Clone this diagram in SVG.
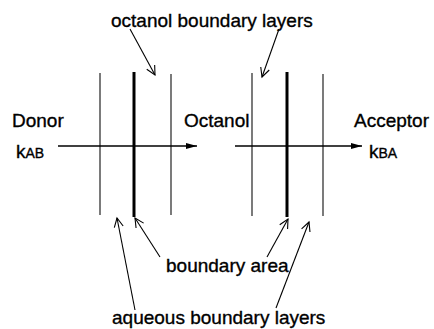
<svg xmlns="http://www.w3.org/2000/svg" width="434" height="329" viewBox="0 0 434 329">
<style>
text{font-family:"Liberation Sans",Arial,sans-serif;font-size:19px;fill:#000;stroke:#000;stroke-width:0.35}
.sub{font-size:14px}
.thin{stroke:#222;stroke-width:1.2;fill:none}
.thick{stroke:#000;stroke-width:3;fill:none}
.flow{stroke:#000;stroke-width:1.5;fill:none;marker-end:url(#fill)}
.ptr{stroke:#000;stroke-width:1.1;fill:none;marker-end:url(#open)}
</style>
<defs>
<marker id="fill" markerWidth="12" markerHeight="8" refX="11" refY="4" orient="auto" markerUnits="userSpaceOnUse">
<path d="M0,1 L11,4 L0,7 Z" fill="#000"/>
</marker>
<marker id="open" markerWidth="12" markerHeight="12" refX="10" refY="6" orient="auto" markerUnits="userSpaceOnUse">
<path d="M1,1.5 L10,6 L1,10.5" fill="none" stroke="#000" stroke-width="1.1"/>
</marker>
</defs>
<rect width="434" height="329" fill="#fff"/>
<g id="membrane-left">
<line class="thin" x1="100" y1="73" x2="100" y2="215"/>
<line class="thick" x1="134" y1="72" x2="134" y2="217"/>
<line class="thin" x1="171" y1="74" x2="171" y2="215"/>
</g>
<g id="membrane-right">
<line class="thin" x1="252" y1="73" x2="252" y2="216"/>
<line class="thick" x1="287" y1="72" x2="287" y2="217"/>
<line class="thin" x1="323" y1="74" x2="323" y2="216"/>
</g>
<g id="label-octanol-boundary"><text x="111" y="27">octanol boundary layers</text></g>
<g id="label-donor"><text x="12" y="127">Donor</text></g>
<g id="label-kab"><text x="16" y="158" font-size="20">k<tspan class="sub" dy="0">AB</tspan></text></g>
<g id="label-octanol"><text x="184" y="127">Octanol</text></g>
<g id="label-acceptor"><text x="354" y="127">Acceptor</text></g>
<g id="label-kba"><text x="369" y="158" font-size="20">k<tspan class="sub">BA</tspan></text></g>
<g id="label-boundary-area"><text x="166" y="272">boundary area</text></g>
<g id="label-aqueous"><text x="112" y="324">aqueous boundary layers</text></g>
<g id="connectors">
<line class="flow" x1="58" y1="146" x2="197" y2="146"/>
<line class="flow" x1="235" y1="146" x2="362" y2="146"/>
<line class="ptr" x1="130" y1="29" x2="155" y2="75"/>
<line class="ptr" x1="279" y1="29" x2="262" y2="77"/>
<line class="ptr" x1="135" y1="310" x2="117" y2="218"/>
<line class="ptr" x1="160" y1="257" x2="135" y2="218"/>
<line class="ptr" x1="267" y1="257" x2="288" y2="219"/>
<line class="ptr" x1="276" y1="308" x2="309" y2="222"/>
</g>
</svg>
